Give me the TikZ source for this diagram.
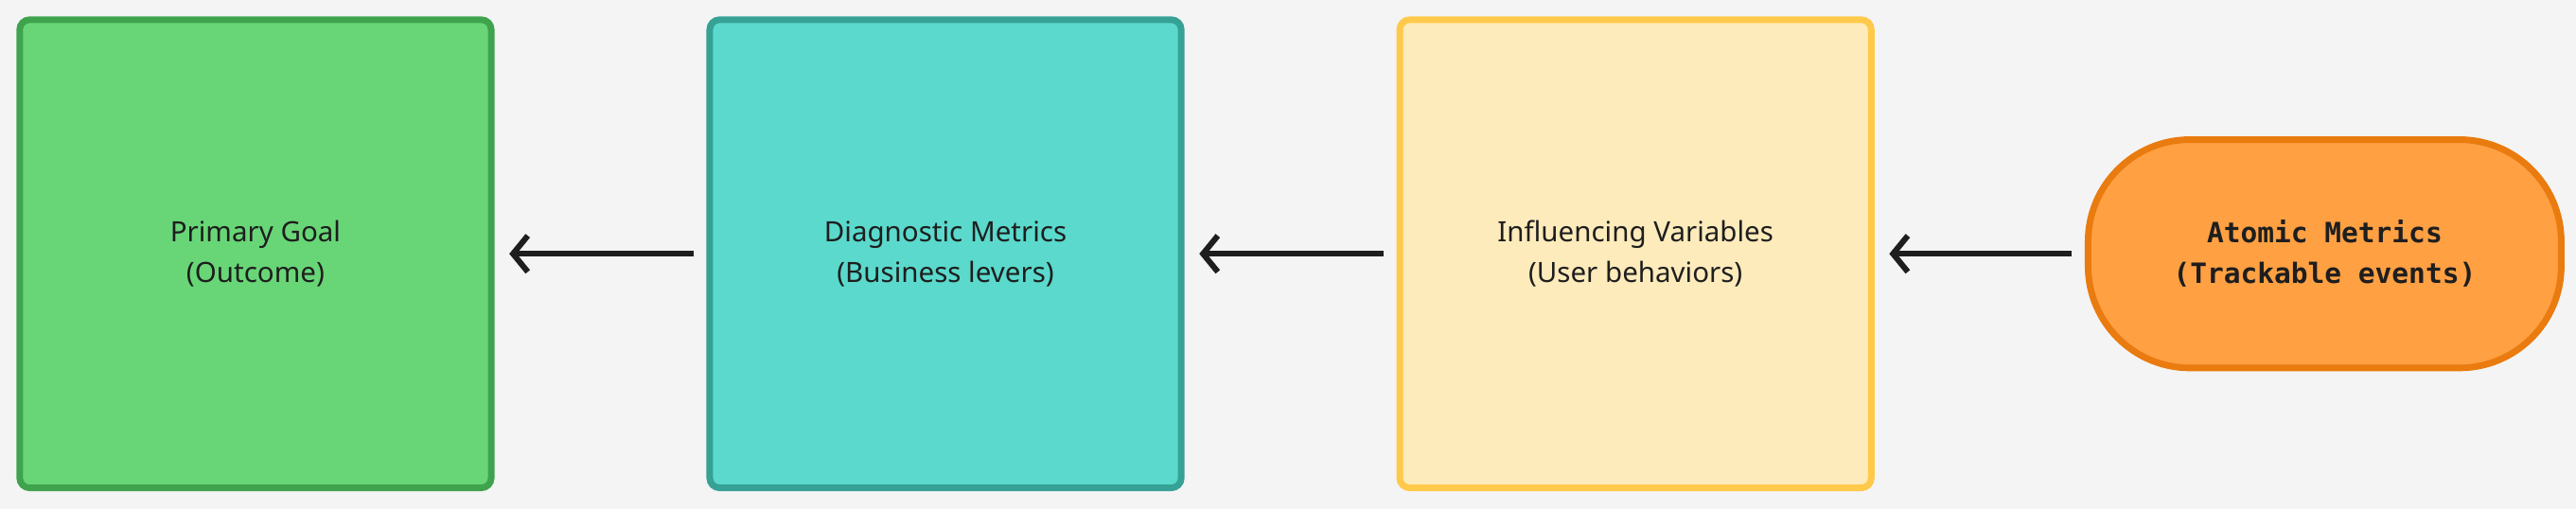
\documentclass[tikz,border=0pt]{standalone}
\usepackage{fontspec}
\setmainfont{Noto Sans}
\setmonofont{DejaVu Sans Mono}
\usetikzlibrary{positioning,arrows.meta}
\definecolor{bgc}{HTML}{F4F4F4}
\definecolor{goalfill}{HTML}{68D677}\definecolor{goalline}{HTML}{3FA34D}
\definecolor{diagfill}{HTML}{5AD9CC}\definecolor{diagline}{HTML}{36A195}
\definecolor{inflfill}{HTML}{FEEBBB}\definecolor{inflline}{HTML}{FFC94A}
\definecolor{atomfill}{HTML}{FFA043}\definecolor{atomline}{HTML}{E97B0F}
\definecolor{ink}{HTML}{1E1E1E}
\begin{document}
\begin{tikzpicture}[x=1pt, y=-1pt, node distance={129pt}, thick,
    box/.style = {draw, line width=4pt, rounded corners=6pt, minimum width=287pt,
                  minimum height=285pt, align=center, font=\bfseries\fontsize{17}{25}\selectfont, text=ink},
    pill/.style = {draw, line width=4pt, rounded corners=62pt, minimum width=288pt,
                   minimum height=139pt, align=center, font=\ttfamily\bfseries\fontsize{17}{25}\selectfont, text=ink},
    link/.style = {-{Straight Barb[length=9pt,width=22pt,line width=3.5pt]}, line width=3.5pt, ink,
                   shorten <=8pt, shorten >=9pt}]
    \fill[bgc] (0,0) rectangle (1568,310);
    \useasboundingbox (0,0) rectangle (1568,310);
    % boxes
    \node[box, fill=goalfill, draw=goalline] (goal) at (155.5,154.5) {Primary Goal\\(Outcome)};
    \node[box, fill=diagfill, draw=diagline] (diag) [right = of goal] {Diagnostic Metrics\\(Business levers)};
    \node[box, fill=inflfill, draw=inflline] (infl) [right = of diag] {Influencing Variables\\(User behaviors)};
    \node[pill, fill=atomfill, draw=atomline] (atom) [right = 128pt of infl] {Atomic Metrics\\(Trackable events)};

    % arrows
    \draw[link] (diag) -- (goal);
    \draw[link] (infl) -- (diag);
    \draw[link] (atom) -- (infl);
\end{tikzpicture}
\end{document}
